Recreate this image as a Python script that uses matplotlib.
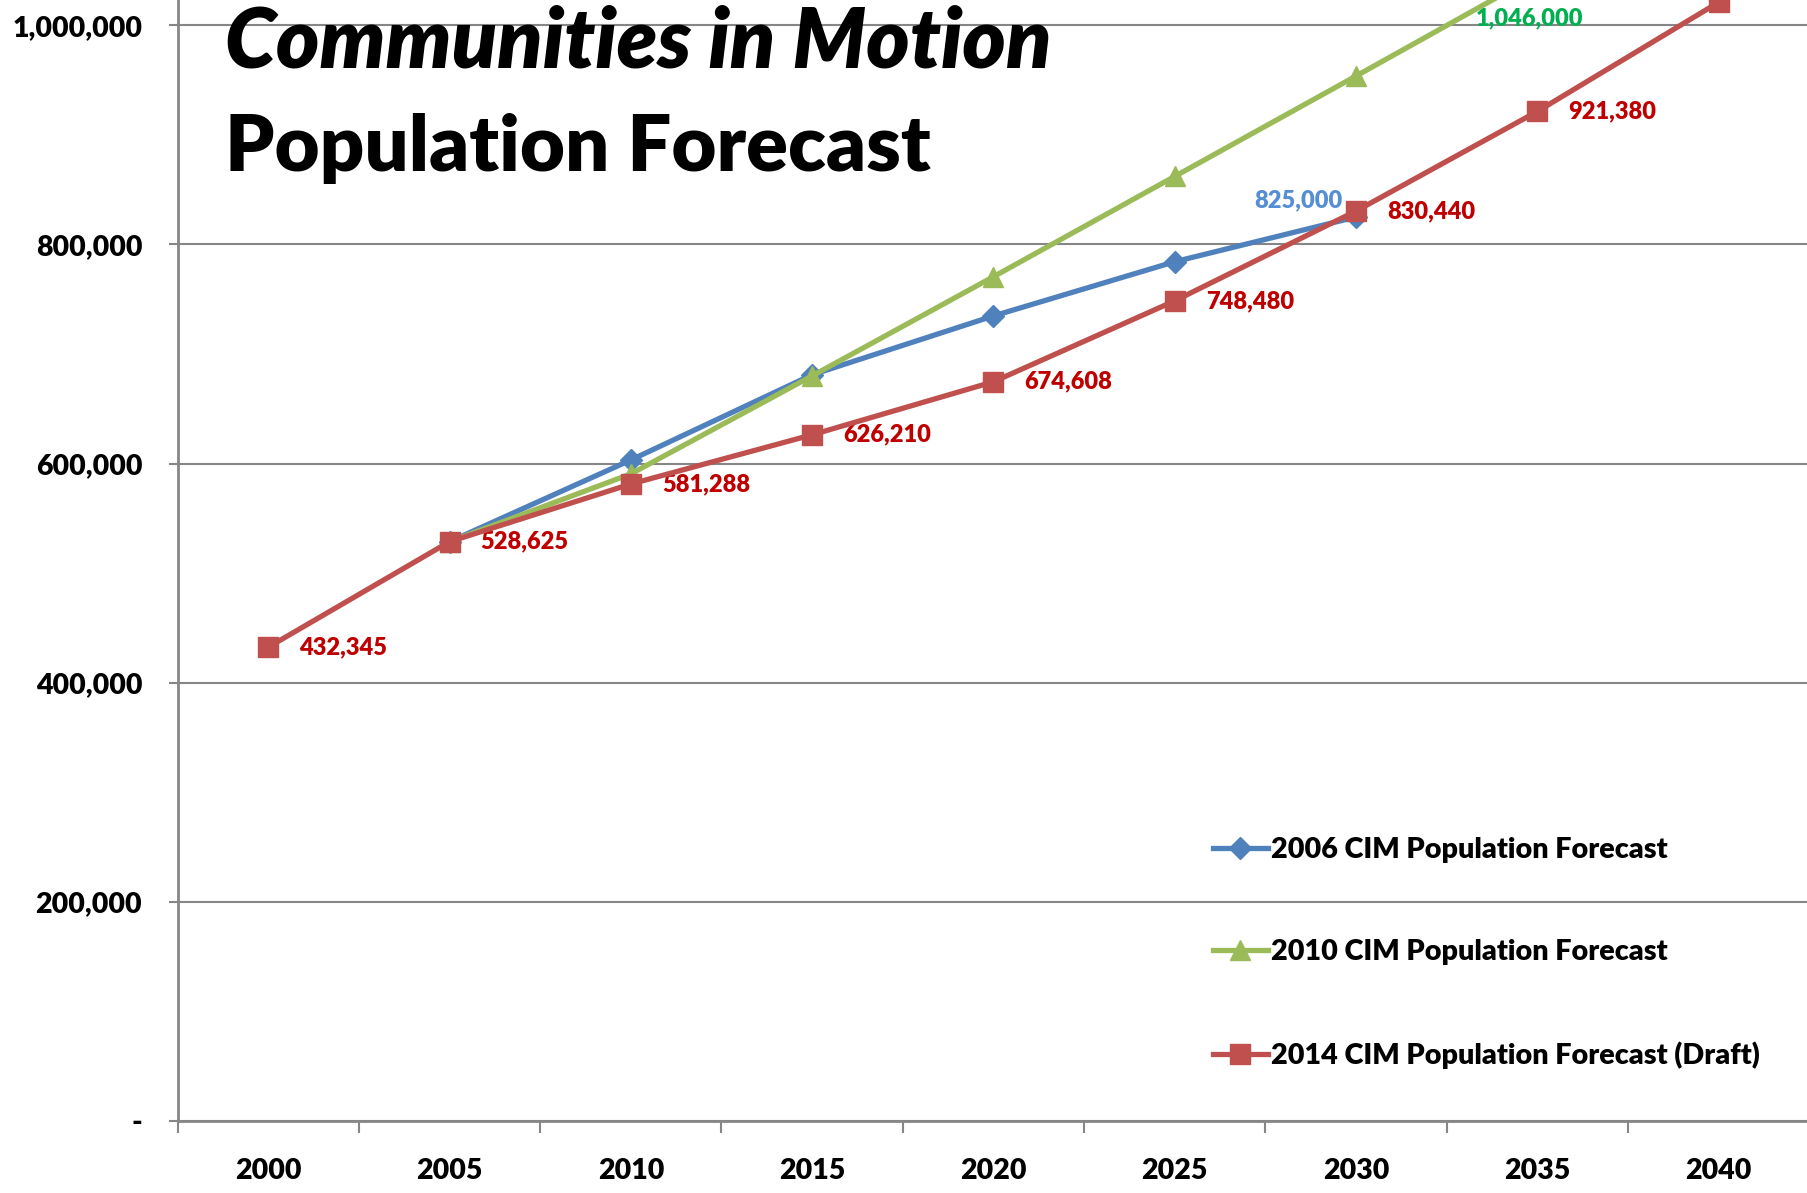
import numpy as np
import matplotlib
matplotlib.use("Agg")
import matplotlib.pyplot as plt
from matplotlib.ticker import FuncFormatter, FixedLocator

plt.rcParams['font.family'] = ['Lato', 'DejaVu Sans']

years = ['2000', '2005', '2010', '2015', '2020', '2025', '2030', '2035', '2040']

# 2006 CIM forecast (2005-2030)
cim2006_idx = [1, 2, 3, 4, 5, 6]
cim2006 = [528625, 603200, 681000, 734700, 784200, 825000]

# 2010 CIM forecast (2005-2035)
cim2010_idx = [1, 2, 3, 4, 5, 6, 7]
cim2010 = [528625, 590500, 680000, 770500, 862100, 953700, 1046000]

# 2014 draft forecast (2000-2040)
cim2014_idx = [0, 1, 2, 3, 4, 5, 6, 7, 8]
cim2014 = [432345, 528625, 581288, 626210, 674608, 748480, 830440, 921380, 1021000]

blue = '#4F81BD'
green = '#9BBB59'
red = '#C0504D'
gray = '#868686'
wt = 'heavy'

W, H = 1808, 1193
fig = plt.figure(figsize=(W / 100, H / 100), dpi=100)
# plot area runs past the right and top edges of the picture (cropped chart)
left, bottom = 177.6, 1120.8
cat_w = 181.3
step = 219.1
ax = fig.add_axes([left / W, (H - bottom) / H, 10 * cat_w / W, 6 * step / H])
ax.set_xlim(-0.5, 9.5)
ax.set_ylim(0, 1200000)

ax.plot(cim2006_idx, cim2006, color=blue, lw=3.8, marker='D', ms=11,
        label='2006 CIM Population Forecast', zorder=3)
ax.plot(cim2010_idx, cim2010, color=green, lw=3.8, marker='^', ms=14,
        label='2010 CIM Population Forecast', zorder=4)
ax.plot(cim2014_idx, cim2014, color=red, lw=3.8, marker='s', ms=14.5,
        label='2014 CIM Population Forecast (Draft)', zorder=5)

# data labels (the 2040 one falls outside the cropped picture)
for i, v in zip(cim2014_idx[:-1], cim2014[:-1]):
    ax.annotate(f'{v:,}', (i, v), xytext=(31, 0), textcoords='offset pixels',
                ha='left', va='center', color='#C00000', fontsize=17,
                fontweight=wt)
ax.annotate(f'{cim2006[-1]:,}', (cim2006_idx[-1], cim2006[-1]), xytext=(-14, 17),
            textcoords='offset pixels', ha='right', va='center', color='#558ED5',
            fontsize=17, fontweight=wt)
ax.annotate(f'{cim2010[-1]:,}', (cim2010_idx[-1], cim2010[-1]), xytext=(-8, -43),
            textcoords='offset pixels', ha='center', va='center', color='#00B050',
            fontsize=17, fontweight=wt, annotation_clip=False)

# axes styling
for s in ['top', 'right']:
    ax.spines[s].set_visible(False)
for s in ['left', 'bottom']:
    ax.spines[s].set_color(gray)
    ax.spines[s].set_linewidth(2)
ax.set_yticks(np.arange(0, 1000001, 200000))
ax.yaxis.set_major_formatter(FuncFormatter(lambda v, p: '-' if v == 0 else f'{int(v):,}'))
ax.yaxis.grid(True, color=gray, lw=1.5)
ax.set_axisbelow(True)
ax.tick_params(axis='y', length=6.5, width=1.5, color=gray, pad=19, labelsize=20.5)
for lab in ax.get_yticklabels():
    lab.set_fontweight(wt)

ax.xaxis.set_major_locator(FixedLocator(np.arange(-0.5, 10, 1)))
ax.xaxis.set_minor_locator(FixedLocator(np.arange(0, 9)))
ax.set_xticklabels([], minor=False)
ax.set_xticklabels(years, minor=True, fontweight=wt, fontsize=20.5)
ax.tick_params(axis='x', which='major', length=8.5, width=1.5, color=gray)
ax.tick_params(axis='x', which='minor', length=0, pad=27)

# title
fig.text(225 / W, 1 - 67 / H, 'Communities in Motion', fontsize=59.5,
         fontweight=wt, fontstyle='italic', ha='left', va='baseline')
fig.text(225 / W, 1 - 171 / H, 'Population Forecast', fontsize=56,
         fontweight=wt, ha='left', va='baseline')

leg = ax.legend(loc='upper left', bbox_to_anchor=(1213 / W, 1 - 837 / H),
                bbox_transform=fig.transFigure, frameon=False, borderpad=0,
                borderaxespad=0, handlelength=1.9, handletextpad=0.12,
                labelspacing=2.65, prop={'size': 20.7, 'weight': wt})

fig.savefig('out.png', dpi=100)
